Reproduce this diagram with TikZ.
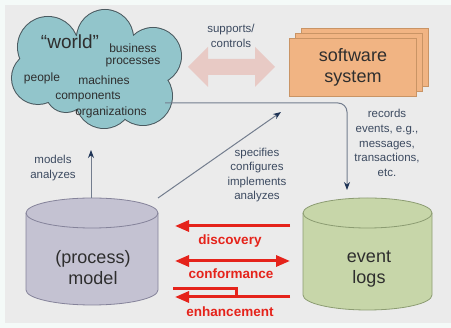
\documentclass[tikz,border=0pt]{standalone}
\usepackage{fontspec}
\setmainfont{Liberation Sans}
\usetikzlibrary{arrows.meta}

\definecolor{framec}{HTML}{F4FAF8}
\definecolor{slidec}{HTML}{EBEBEB}
\definecolor{cloudc}{HTML}{92C5CB}
\definecolor{cloudline}{HTML}{4A5A60}
\definecolor{cloudtxtc}{HTML}{2E2E2E}
\definecolor{pinkc}{HTML}{E8CAC5}
\definecolor{orangec}{HTML}{F1B483}
\definecolor{orangeline}{HTML}{C99465}
\definecolor{lavc}{HTML}{C4C2D2}
\definecolor{lavline}{HTML}{85839A}
\definecolor{greenc}{HTML}{C7D6A9}
\definecolor{greenline}{HTML}{8C9C72}
\definecolor{labelc}{HTML}{3C4A60}
\definecolor{bigc}{HTML}{2E2E2E}
\definecolor{linec}{HTML}{737D8E}
\definecolor{navyc}{HTML}{1F3456}
\definecolor{redc}{HTML}{E5231B}

\begin{document}
\begin{tikzpicture}[x=1pt,y=-1pt,
  lbl/.style={text=labelc, align=center, font=\fontsize{11.5}{14.6}\selectfont, inner sep=0},
  cloudtxt/.style={text=cloudtxtc, font=\fontsize{12}{14}\selectfont, inner sep=0},
  bigtxt/.style={text=bigc, align=center, font=\fontsize{18}{21}\selectfont, inner sep=0},
  redtxt/.style={text=redc, font=\bfseries\fontsize{13.5}{16}\selectfont, inner sep=0},
  flow/.style={draw=linec, line width=1pt, -{Stealth[length=8pt,width=6pt,color=navyc]}},
  redline/.style={draw=redc, line width=3pt},
  redtip/.style={-{Triangle[length=14pt,width=11pt,color=redc]}},
  redtips/.style={{Triangle[length=14pt,width=11pt,color=redc]}-{Triangle[length=14pt,width=11pt,color=redc]}},
  sheet/.style={fill=orangec, draw=orangeline, line width=0.8pt},
]
\useasboundingbox (0,0) rectangle (451,328);
% slide background
\fill[framec] (0,0) rectangle (451,328);
\fill[slidec] (5,5) rectangle (451,323);

% ---- the "world" cloud: union of puffs ----
\def\puffs{(38,78) circle (26) (48,47) circle (30) (105,38) circle (28)
  (153,56) circle (28) (143,96) circle (29) (104,100) circle (28) (66,92) circle (20)}
\draw[cloudline, line width=2pt] \puffs;
\fill[cloudc] \puffs;
\fill[cloudc] (98,70) ellipse (62 and 36);
\coordinate (world) at (98,70);

\node[cloudtxt, font=\fontsize{19}{22}\selectfont] (w1) at (70,42) {“world”};
\node[cloudtxt] (w2) at (133,48) {business};
\node[cloudtxt] (w3) at (133,63) {processes};
\node[cloudtxt] (w4) at (42,78) {people};
\node[cloudtxt] (w5) at (104,80) {machines};
\node[cloudtxt] (w6) at (88,97) {components};
\node[cloudtxt] (w7) at (111,112) {organizations};

% ---- supports/controls double arrow ----
\fill[pinkc] (188,67) -- (208,47) -- (208,59) -- (255,59) -- (255,47) -- (275,67)
  -- (255,87) -- (255,75) -- (208,75) -- (208,87) -- cycle;
\node[lbl] (supports) at (231,36) {supports/\\controls};

% ---- software system: stacked sheets ----
\draw[sheet] (301,28) rectangle (428,86);
\draw[sheet] (295,33) rectangle (422,91);
\draw[sheet] (289,38) rectangle (416,96);
\node[bigtxt] (software) at (353,67) {software\\system};

% ---- (process) model cylinder ----
\fill[lavc] (26,213) -- (26,290) arc[start angle=180,end angle=0,x radius=66,y radius=15]
  -- (158,213) arc[start angle=0,end angle=-180,x radius=66,y radius=15] -- cycle;
\draw[lavline, line width=0.8pt] (26,213) -- (26,290) arc[start angle=180,end angle=0,x radius=66,y radius=15]
  -- (158,213) arc[start angle=0,end angle=-180,x radius=66,y radius=15];
\draw[lavline, line width=0.8pt] (26,213) arc[start angle=180,end angle=0,x radius=66,y radius=15];
\node[bigtxt] (model) at (93,268) {(process)\\model};

% ---- event logs cylinder ----
\fill[greenc] (303,213) -- (303,295) arc[start angle=180,end angle=0,x radius=64.5,y radius=15]
  -- (432,213) arc[start angle=0,end angle=-180,x radius=64.5,y radius=15] -- cycle;
\draw[greenline, line width=0.8pt] (303,213) -- (303,295) arc[start angle=180,end angle=0,x radius=64.5,y radius=15]
  -- (432,213) arc[start angle=0,end angle=-180,x radius=64.5,y radius=15];
\draw[greenline, line width=0.8pt] (303,213) arc[start angle=180,end angle=0,x radius=64.5,y radius=15];
\node[bigtxt] (logs) at (369,269) {event\\logs};

% ---- blue-grey connectors ----
\coordinate (modeltop) at (91,198);
\coordinate (belowworld) at (91,150);
\draw[flow] (modeltop) -- (belowworld);
\node[lbl] (modelslbl) at (53,168) {models\\analyzes};

\coordinate (modelcorner) at (158,198);
\coordinate (towardsw) at (281,112);
\draw[flow] (modelcorner) -- (towardsw);
\node[lbl] (specifies) at (257,175) {specifies\\configures\\implements\\analyzes};

\coordinate (recstart) at (165,103);
\coordinate (logstop) at (347,190);
\draw[flow, rounded corners=9pt] (recstart) -- (logstop |- recstart) -- (logstop);
\node[lbl] (records) at (387,143) {records\\events, e.g.,\\messages,\\transactions,\\etc.};

% ---- red process mining arrows ----
\coordinate (dR) at (290,226);  \coordinate (dL) at (175,226);
\draw[redline, redtip] (dR) -- (dL);
\node[redtxt] (discovery) at (230,241) {discovery};

\coordinate (cR) at (290,261);  \coordinate (cL) at (175,261);
\draw[redline, redtips] (cL) -- (cR);
\node[redtxt] (conformance) at (231,274) {conformance};

\coordinate (eR) at (290,297);  \coordinate (eL) at (175,297);
\coordinate (eTop) at (173,289); \coordinate (eKnee) at (236,297);
\draw[redline] (eTop) -- (eTop -| eKnee) -- (eKnee);
\draw[redline, redtip] (eR) -- (eL);
\node[redtxt] (enhancement) at (230,312) {enhancement};
\end{tikzpicture}
\end{document}
